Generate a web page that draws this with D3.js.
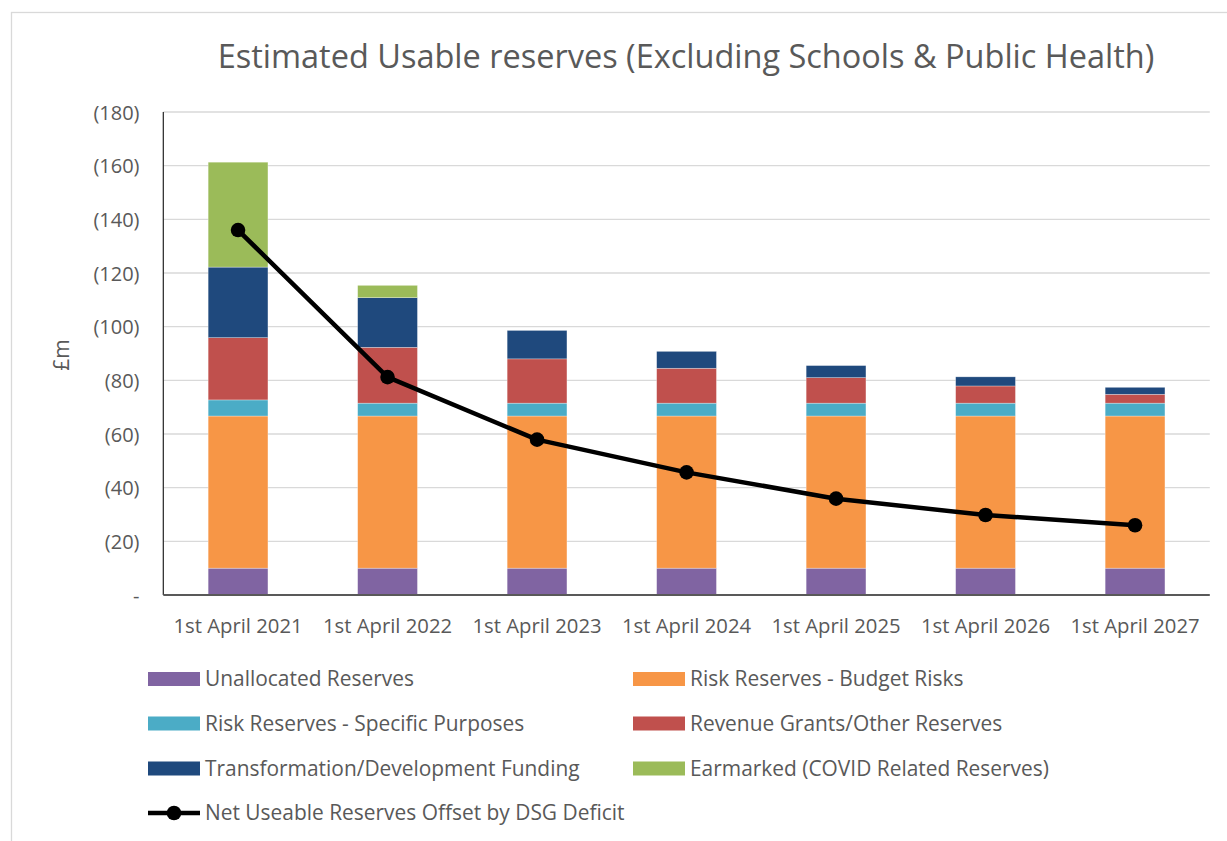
<!DOCTYPE html>
<html>
<head>
<meta charset="utf-8">
<script src="https://cdn.jsdelivr.net/npm/d3@7/dist/d3.min.js"></script>
<style>
  html, body { margin: 0; padding: 0; background: #fff; }
  svg { display: block; font-family: "Open Sans", sans-serif; }
</style>
</head>
<body>
<svg id="chart" width="1227" height="841"></svg>
<script>
// ---- Data (values in £m, shown as negatives/brackets on axis) ----
const categories = ["1st April 2021", "1st April 2022", "1st April 2023", "1st April 2024", "1st April 2025", "1st April 2026", "1st April 2027"];
const unallocated      = [10.0, 10.0, 10.0, 10.0, 10.0, 10.0, 10.0];
const budgetRisks      = [56.7, 56.7, 56.7, 56.7, 56.7, 56.7, 56.7];
const specificPurposes = [6.0, 4.8, 4.8, 4.8, 4.8, 4.8, 4.8];
const revenueGrants    = [23.2, 20.8, 16.5, 13.0, 9.5, 6.4, 3.3];
const transformation   = [26.3, 18.5, 10.6, 6.3, 4.5, 3.4, 2.6];
const earmarked        = [39.1, 4.6, 0, 0, 0, 0, 0];
const netUseable       = [136.0, 81.2, 57.9, 45.7, 35.9, 29.8, 26.0];
const yTickValues = [0, 20, 40, 60, 80, 100, 120, 140, 160, 180];
const yTickLabels = ["-", "(20)", "(40)", "(60)", "(80)", "(100)", "(120)", "(140)", "(160)", "(180)"];

const seriesNames = ["Unallocated Reserves", "Risk Reserves - Budget Risks", "Risk Reserves - Specific Purposes",
                     "Revenue Grants/Other Reserves", "Transformation/Development Funding", "Earmarked (COVID Related Reserves)"];
const seriesData = [unallocated, budgetRisks, specificPurposes, revenueGrants, transformation, earmarked];
const lineName = "Net Useable Reserves Offset by DSG Deficit";
const colors = ["#8064A2", "#F79646", "#4BACC6", "#C0504D", "#1F497D", "#9BBB59"];

const textColor = "#595959";
const svg = d3.select("#chart");

// chart border
svg.append("rect").attr("x", 11.5).attr("y", 12.5).attr("width", 1240).attr("height", 850)
  .attr("fill", "#fff").attr("stroke", "#d9d9d9").attr("stroke-width", 1.3);

const plot = { left: 163.3, right: 1209.8, top: 112, bottom: 595 };

const x = d3.scaleBand().domain(categories).range([plot.left, plot.right]).paddingInner(0.6).paddingOuter(0.3);
const y = d3.scaleLinear().domain([0, 180]).range([plot.bottom, plot.top]);

// gridlines
svg.append("g").selectAll("line").data(yTickValues.filter(v => v > 0)).join("line")
  .attr("x1", plot.left).attr("x2", plot.right)
  .attr("y1", d => y(d)).attr("y2", d => y(d))
  .attr("stroke", "#d9d9d9").attr("stroke-width", 1.3);

// stacked data
const rows = categories.map((c, i) => {
  const r = { cat: c };
  seriesNames.forEach((s, j) => r[s] = seriesData[j][i]);
  return r;
});
const stack = d3.stack().keys(seriesNames)(rows);

svg.append("g").selectAll("g").data(stack).join("g")
  .attr("fill", (d, i) => colors[i])
  .selectAll("rect").data(d => d.filter(p => p[1] - p[0] > 0)).join("rect")
  .attr("x", d => x(d.data.cat))
  .attr("width", x.bandwidth())
  .attr("y", d => y(d[1]))
  .attr("height", d => y(d[0]) - y(d[1]))
  .attr("stroke", "rgba(255,255,255,0.5)").attr("stroke-width", 0.6);

// axes lines
svg.append("line").attr("x1", plot.left).attr("x2", plot.left).attr("y1", plot.top).attr("y2", plot.bottom)
  .attr("stroke", "#222").attr("stroke-width", 1.2);
svg.append("line").attr("x1", plot.left).attr("x2", plot.right).attr("y1", plot.bottom).attr("y2", plot.bottom)
  .attr("stroke", "#595959").attr("stroke-width", 2);

// y axis labels
const yAxis = d3.axisLeft(y).tickValues(yTickValues).tickSize(0).tickPadding(0)
  .tickFormat((d, i) => yTickLabels[i]);
const gy = svg.append("g").attr("transform", `translate(139.5,0)`).call(yAxis);
gy.select(".domain").remove();
gy.selectAll("text").attr("fill", textColor).attr("font-size", 20).attr("font-family", "Open Sans").attr("dy", "0.35em");

// x axis labels
const xAxis = d3.axisBottom(x).tickSize(0).tickPadding(0);
const gx = svg.append("g").attr("transform", `translate(0,${plot.bottom})`).call(xAxis);
gx.select(".domain").remove();
gx.selectAll("text").attr("fill", textColor).attr("font-size", 20.3).attr("font-family", "Open Sans")
  .attr("y", 38).attr("dy", 0);

// y axis title
svg.append("text").attr("transform", "translate(69,355) rotate(-90)")
  .attr("text-anchor", "middle").attr("fill", textColor).attr("font-size", 21).text("£m");

// line series
const line = d3.line().x((d, i) => x(categories[i]) + x.bandwidth() / 2).y(d => y(d));
svg.append("path").datum(netUseable).attr("d", line)
  .attr("fill", "none").attr("stroke", "#000").attr("stroke-width", 4.5).attr("stroke-linejoin", "round");
svg.append("g").selectAll("circle").data(netUseable).join("circle")
  .attr("cx", (d, i) => x(categories[i]) + x.bandwidth() / 2)
  .attr("cy", d => y(d)).attr("r", 7.3).attr("fill", "#000");

// title
const title = svg.append("text").attr("x", 686).attr("y", 68).attr("text-anchor", "middle")
  .attr("fill", textColor).attr("font-size", 32).text("Estimated Usable reserves (Excluding Schools & Public Health)");
function fit(sel, target) {
  const w = sel.node().getComputedTextLength();
  const fs = parseFloat(sel.attr("font-size"));
  sel.attr("font-size", fs * target / w);
}
fit(title, 937);

// legend
const legendItems = [
  { name: seriesNames[0], color: colors[0], x: 148, y: 679 },
  { name: seriesNames[1], color: colors[1], x: 633, y: 679 },
  { name: seriesNames[2], color: colors[2], x: 148, y: 723.5 },
  { name: seriesNames[3], color: colors[3], x: 633, y: 723.5 },
  { name: seriesNames[4], color: colors[4], x: 148, y: 768.5 },
  { name: seriesNames[5], color: colors[5], x: 633, y: 768.5 },
];
const lg = svg.append("g");
legendItems.forEach(it => {
  lg.append("rect").attr("x", it.x).attr("y", it.y - 7).attr("width", 52).attr("height", 14).attr("fill", it.color);
  lg.append("text").attr("x", it.x + 57).attr("y", it.y + 7).attr("fill", textColor)
    .attr("font-size", 19.5).text(it.name);
});
// line legend
lg.append("line").attr("x1", 148).attr("x2", 200).attr("y1", 813).attr("y2", 813).attr("stroke", "#000").attr("stroke-width", 4.5);
lg.append("circle").attr("cx", 174).attr("cy", 813).attr("r", 7.3).attr("fill", "#000");
lg.append("text").attr("x", 205).attr("y", 820).attr("fill", textColor).attr("font-size", 19.5).text(lineName);
// fit legend font to measured width of "Unallocated Reserves" (209px)
const firstText = lg.selectAll("text").nodes()[0];
const ratio = 209 / firstText.getComputedTextLength();
lg.selectAll("text").attr("font-size", 19.5 * ratio);
</script>
</body>
</html>
